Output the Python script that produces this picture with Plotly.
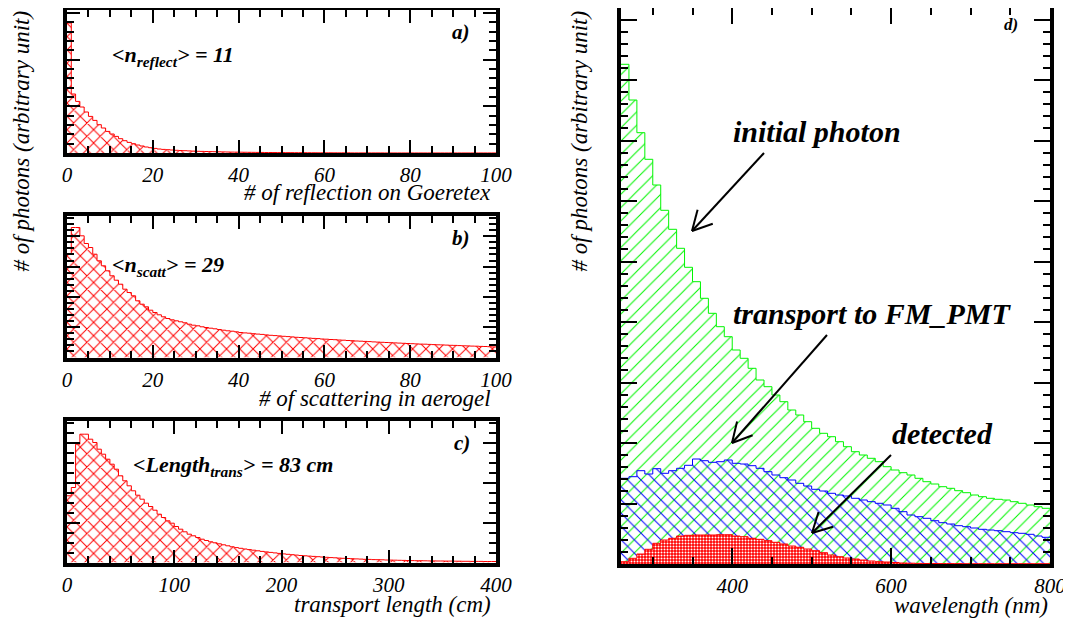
import math
import plotly.graph_objects as go

# the page places the figure 8 px from the top-left corner of the window
OFF = 8
W, H = 1071 - OFF, 620 - OFF

# ---------------- data (arbitrary units) ----------------
# a) number of reflections on Goretex, bins of width 1 from 0 to 100
reflect_bin0, reflect_binw = 0, 1
n_reflect = [130, 59, 51.6, 46, 41, 36.6, 32.6, 28.3, 25, 21.6,
             19, 16.6, 14.3, 12.3, 10.6, 9.3, 8, 7, 6, 5.3,
             4.6, 4, 3.6, 3.3, 3, 2.7, 2.5, 2.3, 2.1, 1.9,
             1.7, 1.6, 1.5, 1.4, 1.3, 1.2, 1.1, 1.0, 0.9, 0.85,
             0.8, 0.75, 0.7, 0.65, 0.6, 0.55, 0.5, 0.5, 0.45, 0.4,
             0.4, 0.35, 0.35, 0.3, 0.3, 0.3, 0.25, 0.25, 0.2, 0.2,
             0.2, 0.2, 0.15, 0.15, 0.15, 0.15, 0.1, 0.1, 0.1, 0.1,
             0.1, 0.1, 0.1, 0.1, 0.05, 0.05, 0.05, 0.05, 0.05, 0.05,
             0.05, 0.05, 0.05, 0.05, 0.05, 0.05, 0.05, 0.05, 0.05, 0.05,
             0.05, 0.05, 0.05, 0.05, 0.05, 0.05, 0.05, 0.05, 0.05, 0.05]

# b) number of scatterings in aerogel, bins of width 1 from 0 to 100
scatt_bin0, scatt_binw = 0, 1
n_scatt = [103, 130, 130, 121.7, 114, 110, 103.3, 96.7, 91.7, 86.7,
           81.7, 77.3, 73.3, 68.3, 65, 61.7, 56.7, 53.3, 50.7, 47.3,
           45, 42.7, 40.7, 39, 37.7, 36.7, 35.7, 34.7, 33.3, 32.3,
           31.7, 30.7, 30, 29.3, 28.7, 28, 27.3, 26.7, 26.3, 25.7,
           25, 24.6, 24.3, 23.8, 23.4, 23.1, 22.6, 22.2, 21.9, 21.6,
           21.2, 20.9, 20.6, 20.2, 20, 19.7, 19.4, 19.1, 18.9, 18.5,
           18.3, 18, 17.8, 17.5, 17.3, 17, 16.8, 16.5, 16.3, 16.1,
           15.9, 15.6, 15.4, 15.2, 15, 14.8, 14.6, 14.4, 14.2, 14,
           13.8, 13.6, 13.4, 13.3, 13.1, 12.9, 12.7, 12.6, 12.4, 12.2,
           12.1, 11.9, 11.7, 11.6, 11.4, 11.3, 11.1, 11, 10.8, 10.6]

# c) transport length (cm), bins of 4 cm from 0 to 400
length_bin0, length_binw = 0, 4
trans_length = [66.7, 75, 118.3, 128.3, 128.3, 123.3, 120, 113.3, 108.3, 103.3,
                98.3, 93.3, 86.7, 81.7, 76.7, 71.7, 67.3, 63.3, 59.3, 56,
                52.3, 48.3, 45, 41.7, 39.3, 36, 33.3, 30.7, 28.3, 26.7,
                25, 23.3, 22, 20.7, 19.7, 18.7, 17.7, 16.7, 15.7, 14.9,
                14.2, 13.5, 12.9, 12.3, 11.7, 11.1, 10.6, 10.1, 9.6, 9.1,
                8.6, 8.2, 7.8, 7.4, 7.0, 6.7, 6.4, 6.1, 5.8, 5.5,
                5.2, 4.9, 4.7, 4.4, 4.2, 4.0, 3.8, 3.6, 3.4, 3.2,
                3.1, 2.9, 2.8, 2.7, 2.5, 2.4, 2.3, 2.2, 2.1, 2.0,
                1.9, 1.8, 1.8, 1.7, 1.6, 1.6, 1.5, 1.5, 1.4, 1.4,
                1.3, 1.3, 1.2, 1.2, 1.1, 1.1, 1.1, 1.0, 1.0, 1.0]

# d) wavelength spectra (nm), bins of 10 nm from 260 to 800
wl_bin0, wl_binw = 260, 10
wl_initial = [499.7, 464, 431.3, 404.7, 379, 353.7, 334.7, 315.7, 296.7, 282.3,
              265.7, 250.7, 237.3, 227.3, 214, 205.7, 195.7, 184, 177.3, 169,
              162.3, 154, 149, 142.3, 135.7, 130.7, 127.3, 122.3, 117.3, 112.3,
              109, 105.7, 102.3, 97.3, 94, 91.3, 89, 85.7, 82.3, 80,
              77.3, 75.7, 73.3, 71.3, 69, 67.3, 65.7, 64.7, 64, 62.3,
              60.7, 59, 57.3, 55.7]
wl_transport = [85.7, 87.3, 93.3, 90, 95.3, 90.7, 93.3, 95.7, 98.7, 105,
                103.3, 101.7, 102.3, 104, 100.7, 100, 98.3, 95.7, 92.3, 89,
                86.3, 84, 80.7, 78, 74.7, 73, 70.7, 69, 68, 65.7,
                64, 62.3, 60.7, 59, 55.7, 52.3, 49, 47.3, 45.7, 43.3,
                41.3, 40, 38.3, 37.3, 36, 34.7, 34, 33.3, 32.3, 31.3,
                30.7, 29.7, 28, 26.7]
wl_detected = [2.3, 5.7, 10, 14.7, 20.7, 24, 25.7, 28, 28.7, 29,
               29, 29, 29.3, 29.3, 28, 27.3, 25.7, 24.7, 23.3, 21.7,
               20, 18, 16.7, 15, 13.3, 11.3, 9, 7.3, 6, 5,
               4, 3, 2.3, 2, 1.5, 1, 0.8, 0.6, 0.5, 0.5,
               0.4, 0.4, 0.4, 0.3, 0.3, 0.3, 0.3, 0.3, 0.3, 0.3,
               0.3, 0.3, 0.3, 0.3]

# texts
x_titles = ["# of reflection on Goeretex", "# of scattering in aerogel",
            "transport length (cm)", "wavelength (nm)"]
y_title = "# of photons (arbitrary unit)"
panel_tags = ["a)", "b)", "c)", "d)"]
mean_texts = ["&lt;n<sub>reflect</sub>&gt; = 11", "&lt;n<sub>scatt</sub>&gt; = 29",
              "&lt;Length<sub>trans</sub>&gt; = 83 cm"]
curve_labels = ["initial photon", "transport to FM_PMT", "detected"]

# ---------------- layout geometry (window pixels) ----------------
frames = {  # x0, x1, y0(top), y1(bottom)
    1: (67, 496, 10, 153),
    2: (67, 496, 216, 357.5),
    3: (67, 496, 420.5, 562.5),
    4: (621, 1050, 8, 564),
}
SERIF = "Liberation Serif"
RED, GREEN, BLUE = "rgb(255,0,0)", "rgb(0,245,0)", "rgb(0,0,255)"


def step_xy(x0, w, vals):
    xs = [x0 + i * w for i in range(len(vals) + 1)]
    ys = list(vals) + [vals[-1]]
    return xs, ys


def px(xp):
    return (xp - OFF) / W


def py(yp):
    return 1 - (yp - OFF) / H


fig = go.Figure()


def add_hist(x0, w, vals, color, shape, size, solidity, axis, bg="rgba(0,0,0,0)", fg=None):
    xs, ys = step_xy(x0, w, vals)
    suf = "" if axis == 1 else str(axis)
    fig.add_trace(go.Scatter(
        x=xs, y=ys, mode="lines", line=dict(color=color, width=1, shape="hv"),
        fill="tozeroy", fillcolor="rgba(0,0,0,0)",
        fillpattern=dict(shape=shape, fgcolor=fg or color, bgcolor=bg, size=size,
                         solidity=solidity, fillmode="replace"),
        xaxis="x" + suf, yaxis="y" + suf, showlegend=False, hoverinfo="skip"))


add_hist(reflect_bin0, reflect_binw, n_reflect, RED, "x", 9.4, 0.2, 1)
add_hist(scatt_bin0, scatt_binw, n_scatt, RED, "x", 9.4, 0.2, 2)
add_hist(length_bin0, length_binw, trans_length, RED, "x", 9.4, 0.2, 3)
add_hist(wl_bin0, wl_binw, wl_initial, GREEN, "/", 9.4, 0.11, 4)
add_hist(wl_bin0, wl_binw, wl_transport, BLUE, "\\", 9.4, 0.11, 4)
add_hist(wl_bin0, wl_binw, wl_detected, RED, ".", 3, 0.35, 4, bg=RED, fg="white")

tickfont = dict(family=SERIF, size=21, color="black", style="italic")


def axis_style(rng, dtick, mdtick, tick0, labels, domain, anchor, ticklen=13):
    return dict(range=rng, domain=domain, anchor=anchor, showline=True, linecolor="black",
                linewidth=4, mirror="ticks", ticks="inside", ticklen=ticklen, tickwidth=2,
                tickcolor="black", showgrid=False, zeroline=False, dtick=dtick, tick0=tick0,
                tickmode="linear", showticklabels=labels, tickfont=tickfont,
                automargin=False, fixedrange=True,
                minor=dict(ticks="inside", ticklen=7, tickwidth=1.5, tickcolor="black",
                           dtick=mdtick, tick0=tick0, showgrid=False))


x_specs = {1: ([0, 100], 20, 5, 0), 2: ([0, 100], 20, 5, 0),
           3: ([0, 400], 100, 20, 0), 4: ([260, 800], 200, 50, 0)}
y_specs = {1: (143, 46.7, 9.34), 2: (141.5, 30.3, 6.06),
           3: (142, 39.7, 9.93), 4: (556, 60.5, 12.1)}

layout = dict(width=W, height=H, margin=dict(l=0, r=0, t=0, b=0),
              paper_bgcolor="white", plot_bgcolor="white", showlegend=False,
              font=dict(family=SERIF, color="black"))
for i in range(1, 5):
    x0, x1, yt, yb = frames[i]
    xd = [px(x0), px(x1)]
    yd = [py(yb), py(yt)]
    rng, dt, mdt, t0 = x_specs[i]
    suf = "" if i == 1 else str(i)
    layout["xaxis" + suf] = axis_style(rng, dt, mdt, t0, True, xd, "y" + suf,
                                       ticklen=16 if i == 4 else 13)
    yh, ydt, ymdt = y_specs[i]
    layout["yaxis" + suf] = axis_style([0, yh], ydt, ymdt, 0, False, yd, "x" + suf,
                                       ticklen=16 if i == 4 else 13)
fig.update_layout(**layout)

ann = []
title_pos = [(493, 192), (493, 399), (493, 604), (1050, 605)]
for t, (xp, yp) in zip(x_titles, title_pos):
    ann.append(dict(text=t, x=px(xp), y=py(yp), xref="paper", yref="paper",
                    xanchor="right", yanchor="middle", showarrow=False,
                    font=dict(family=SERIF, size=23, color="black", style="italic")))
for xp in (21, 579):
    ann.append(dict(text=y_title, x=px(xp), y=py(9), xref="paper", yref="paper",
                    xanchor="center", yanchor="top", textangle=-90, showarrow=False,
                    font=dict(family=SERIF, size=23, color="black", style="italic")))
tag_pos = [(472, 32, 21), (472, 238, 21), (472, 443, 21), (1020, 24, 17)]
for t, (xp, yp, fs) in zip(panel_tags, tag_pos):
    ann.append(dict(text=t, x=px(xp), y=py(yp), xref="paper", yref="paper",
                    xanchor="right", yanchor="middle", showarrow=False,
                    font=dict(family=SERIF, size=fs, color="black", style="italic",
                              weight="bold")))
mean_pos = [(110, 56), (110, 266), (131, 466)]
for t, (xp, yp) in zip(mean_texts, mean_pos):
    ann.append(dict(text=t, x=px(xp), y=py(yp), xref="paper", yref="paper",
                    xanchor="left", yanchor="middle", showarrow=False,
                    font=dict(family=SERIF, size=22, color="black", style="italic",
                              weight="bold")))
label_pos = [(731, 132), (731, 313), (890, 433)]
for t, (xp, yp) in zip(curve_labels, label_pos):
    ann.append(dict(text=t, x=px(xp), y=py(yp), xref="paper", yref="paper",
                    xanchor="left", yanchor="middle", showarrow=False,
                    font=dict(family=SERIF, size=30, color="black", style="italic",
                              weight="bold")))
fig.update_layout(annotations=ann)

arrows = [((764, 153), (692, 231)), ((827, 335), (732, 443)), ((891, 455), (812, 533))]
shapes = []
for (tx, ty), (hx, hy) in arrows:
    shapes.append(dict(type="line", xref="paper", yref="paper", x0=px(tx), y0=py(ty),
                       x1=px(hx), y1=py(hy), line=dict(color="black", width=2)))
    ux, uy = tx - hx, ty - hy
    n = math.hypot(ux, uy)
    ux, uy = ux / n, uy / n
    for ang in (math.radians(28), math.radians(-28)):
        bx = ux * math.cos(ang) - uy * math.sin(ang)
        by = ux * math.sin(ang) + uy * math.cos(ang)
        shapes.append(dict(type="line", xref="paper", yref="paper", x0=px(hx), y0=py(hy),
                           x1=px(hx + 22 * bx), y1=py(hy + 22 * by),
                           line=dict(color="black", width=2)))
fig.update_layout(shapes=shapes)

fig.write_html("out.html")
